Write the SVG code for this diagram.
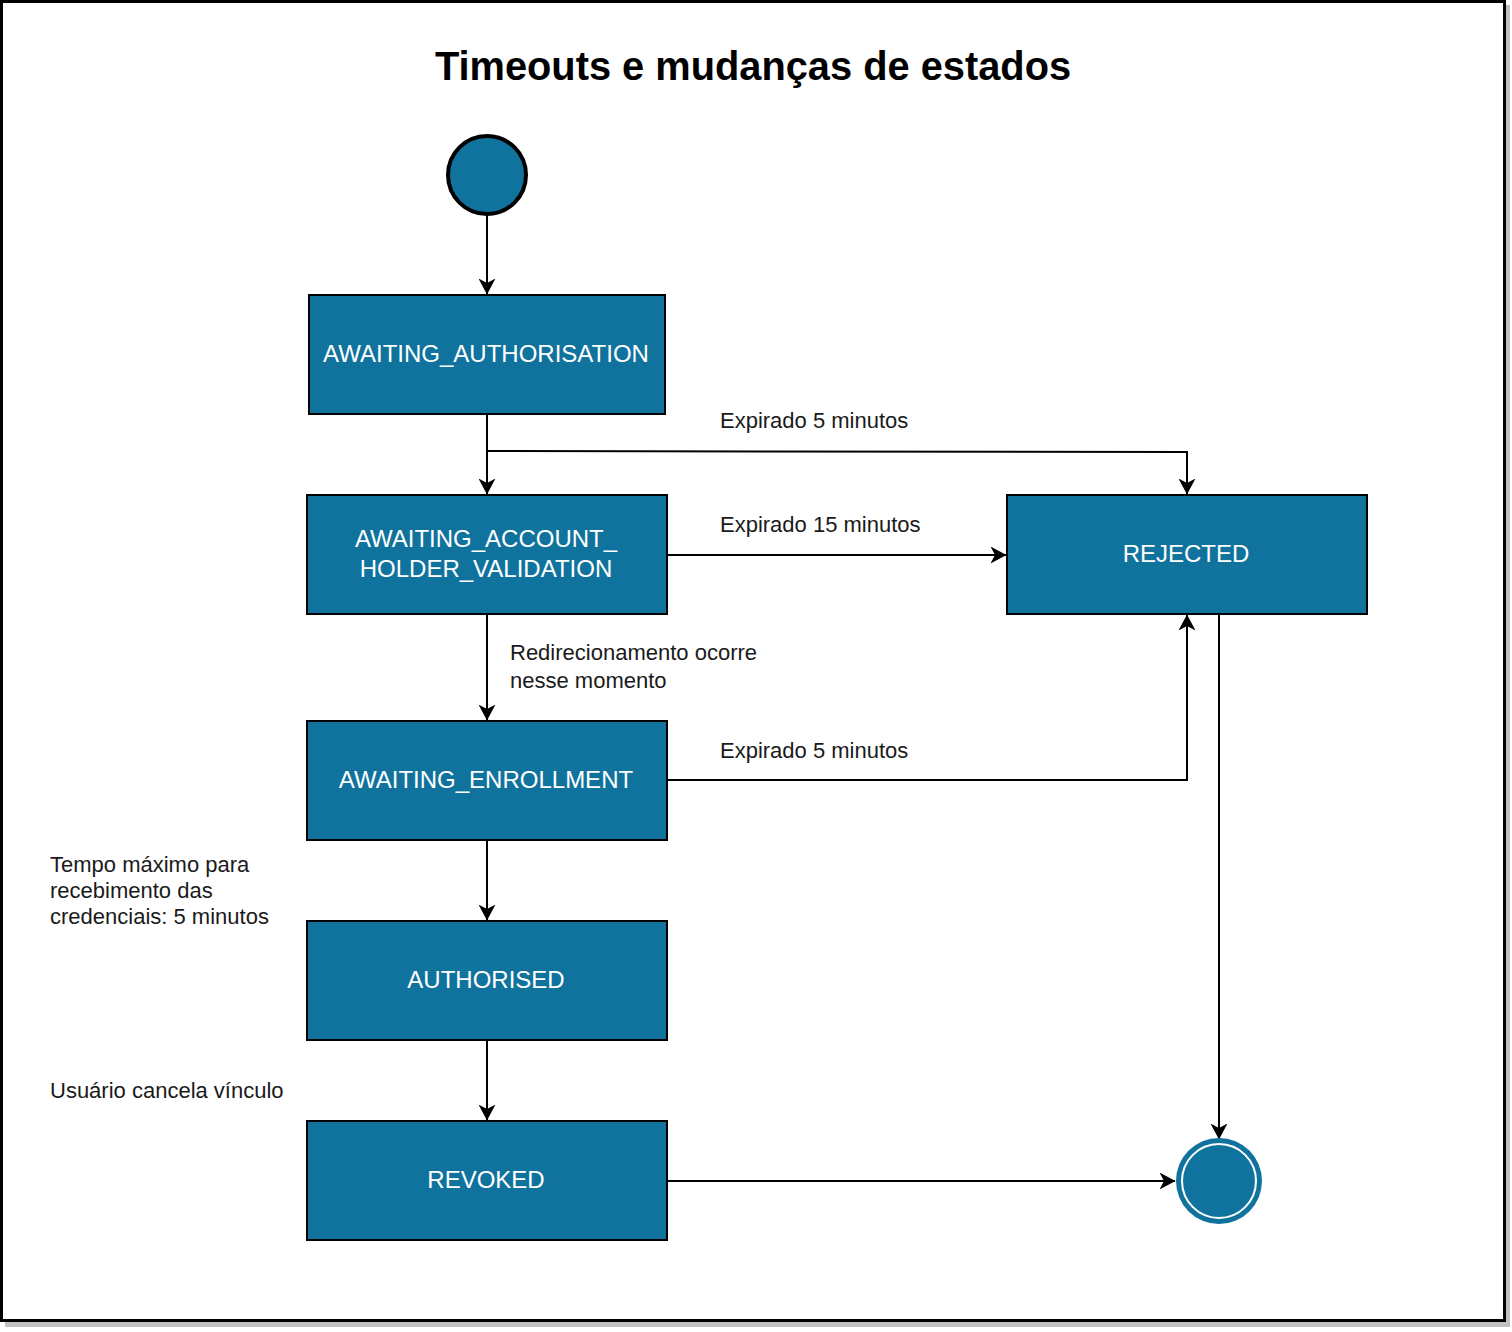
<svg xmlns="http://www.w3.org/2000/svg" width="1512" height="1332" viewBox="0 0 1512 1332">
<defs>
<marker id="arr" markerWidth="16" markerHeight="17" viewBox="0 0 16 17" refX="15.5" refY="8.5" orient="auto" markerUnits="userSpaceOnUse">
<path d="M0,0 L16,8.5 L0,17 L4.5,8.5 Z" fill="#000"/>
</marker>
</defs>
<style>
.node{fill:#10739E;stroke:#000;stroke-width:2}
.nt{font-family:"Liberation Sans",Arial,sans-serif;font-size:24px;fill:#fff;text-anchor:middle}
.lbl{font-family:"Liberation Sans",Arial,sans-serif;font-size:22px;fill:#1a1a1a}
.edge{fill:none;stroke:#000;stroke-width:2;marker-end:url(#arr)}
</style>
<rect x="0" y="0" width="1512" height="1332" fill="#fff"/>
<rect x="5" y="5" width="1505" height="1322" fill="#c0c0c0"/>
<rect x="1.5" y="1.5" width="1503" height="1319" fill="#fff" stroke="#000" stroke-width="3"/>
<text x="753" y="80" font-family="'Liberation Sans',Arial,sans-serif" font-size="39.8" font-weight="bold" text-anchor="middle" fill="#000">Timeouts e mudanças de estados</text>

<g id="connectors">
<path class="edge" d="M487,215 V294"/>
<path class="edge" d="M487,414 V494"/>
<path class="edge" d="M487,451 L1187,452 V494"/>
<path class="edge" d="M667,555 H1006"/>
<path class="edge" d="M487,614 V720"/>
<path class="edge" d="M667,780 H1187 V615"/>
<path class="edge" d="M487,840 V920"/>
<path class="edge" d="M487,1040 V1120"/>
<path class="edge" d="M667,1181 H1175"/>
<path class="edge" d="M1219,614 V1139"/>
</g>

<g id="labels">
<text class="lbl" x="720" y="428">Expirado 5 minutos</text>
<text class="lbl" x="720" y="532">Expirado 15 minutos</text>
<text class="lbl" x="510" y="660">Redirecionamento ocorre</text>
<text class="lbl" x="510" y="688">nesse momento</text>
<text class="lbl" x="720" y="758">Expirado 5 minutos</text>
<text class="lbl" x="50" y="872">Tempo máximo para</text>
<text class="lbl" x="50" y="898">recebimento das</text>
<text class="lbl" x="50" y="924">credenciais: 5 minutos</text>
<text class="lbl" x="50" y="1098">Usuário cancela vínculo</text>
</g>

<g id="start">
<circle cx="487" cy="175" r="39" fill="#10739E" stroke="#000" stroke-width="4"/>
</g>
<g id="awaiting_authorisation">
<rect class="node" x="309" y="295" width="356" height="119"/>
<text class="nt" x="486" y="362">AWAITING_AUTHORISATION</text>
</g>
<g id="awaiting_account_holder_validation">
<rect class="node" x="307" y="495" width="360" height="119"/>
<text class="nt" x="486" y="547">AWAITING_ACCOUNT_</text>
<text class="nt" x="486" y="577">HOLDER_VALIDATION</text>
</g>
<g id="rejected">
<rect class="node" x="1007" y="495" width="360" height="119"/>
<text class="nt" x="1186" y="562">REJECTED</text>
</g>
<g id="awaiting_enrollment">
<rect class="node" x="307" y="721" width="360" height="119"/>
<text class="nt" x="486" y="788">AWAITING_ENROLLMENT</text>
</g>
<g id="authorised">
<rect class="node" x="307" y="921" width="360" height="119"/>
<text class="nt" x="486" y="988">AUTHORISED</text>
</g>
<g id="revoked">
<rect class="node" x="307" y="1121" width="360" height="119"/>
<text class="nt" x="486" y="1188">REVOKED</text>
</g>
<g id="end">
<circle cx="1219" cy="1181" r="43" fill="#10739E"/>
<circle cx="1219" cy="1181" r="37" fill="#10739E" stroke="#fff" stroke-width="2"/>
</g>
</svg>
